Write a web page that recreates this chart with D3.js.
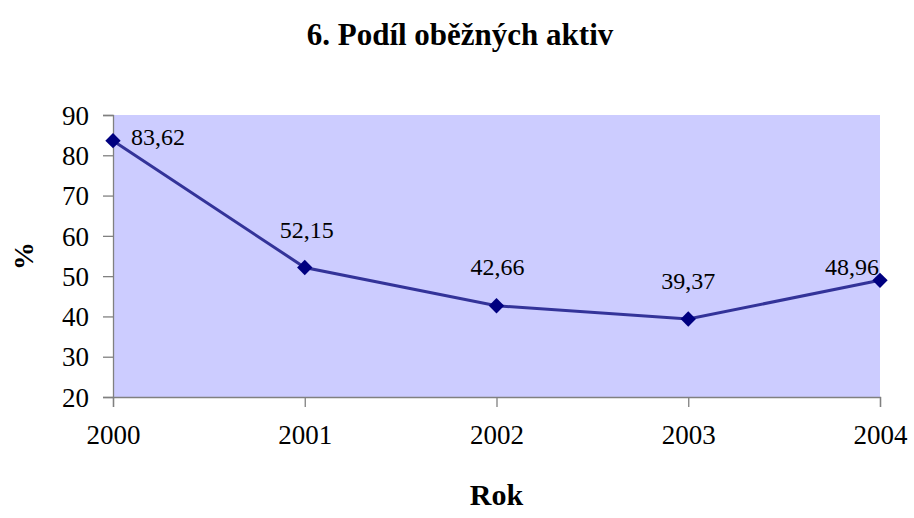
<!DOCTYPE html>
<html>
<head>
<meta charset="utf-8">
<script src="https://cdn.jsdelivr.net/npm/d3@7"></script>
<style>
  body { margin: 0; background: #fff; }
  svg text { font-family: 'Liberation Serif', 'Times New Roman', Times, serif !important; }
</style>
</head>
<body>
<div id="chart"></div>
<script>
// ---------- Data ----------
const years = ['2000', '2001', '2002', '2003', '2004'];
const values = [83.62, 52.15, 42.66, 39.37, 48.96];
const yTicks = [20, 30, 40, 50, 60, 70, 80, 90];

const width = 914, height = 518;
const margin = { top: 115, right: 34, bottom: 121, left: 113 };
const innerW = width - margin.left - margin.right;
const innerH = height - margin.top - margin.bottom;

const svg = d3.select('#chart').append('svg')
    .attr('width', width)
    .attr('height', height);

const g = svg.append('g')
    .attr('transform', `translate(${margin.left},${margin.top})`);

const x = d3.scalePoint().domain(years).range([0, innerW]);
const y = d3.scaleLinear().domain([20, 90]).range([innerH, 0]);

// plot area
g.append('rect')
    .attr('width', innerW)
    .attr('height', innerH)
    .attr('fill', '#ccccff');

// ---------- Axes ----------
const yAxis = g.append('g')
    .call(d3.axisLeft(y).tickValues(yTicks).tickSize(10).tickPadding(14));
const xAxis = g.append('g')
    .attr('transform', `translate(0,${innerH})`)
    .call(d3.axisBottom(x).tickSize(10).tickPadding(14));

[yAxis, xAxis].forEach(ax => {
    ax.attr('font-family', null);
    ax.selectAll('path, line').attr('stroke', '#808080').attr('stroke-width', 1.3);
    ax.selectAll('text')
        .attr('fill', '#000')
        .style('font-size', '27px');
});
yAxis.selectAll('text').attr('dy', '0.34em');
xAxis.selectAll('text').attr('dy', '0.85em');

// ---------- Line ----------
const line = d3.line()
    .x((d, i) => x(years[i]))
    .y(d => y(d));

g.append('path')
    .datum(values)
    .attr('fill', 'none')
    .attr('stroke', '#333399')
    .attr('stroke-width', 3)
    .attr('d', line);

g.selectAll('.marker')
    .data(values)
    .join('path')
    .attr('class', 'marker')
    .attr('d', d3.symbol().type(d3.symbolDiamond2).size(150))
    .attr('transform', (d, i) => `translate(${x(years[i])},${y(d)})`)
    .attr('fill', '#000080');

// ---------- Data labels ----------
// label placement relative to point: [dx, dy, anchor]
const labelPlace = [[18, 4, 'start'], [2, -29, 'middle'], [1, -31, 'middle'], [0, -30, 'middle'], [-1, -5, 'end']];

g.selectAll('.lbl')
    .data(values)
    .join('text')
    .attr('class', 'lbl')
    .attr('x', (d, i) => x(years[i]) + labelPlace[i][0])
    .attr('y', (d, i) => y(d) + labelPlace[i][1])
    .attr('text-anchor', (d, i) => labelPlace[i][2])
    .style('font-size', '24px')
    .attr('fill', '#000')
    .text(d => d.toFixed(2).replace('.', ','));

// ---------- Titles ----------
svg.append('text')
    .attr('x', 460)
    .attr('y', 45)
    .attr('text-anchor', 'middle')
    .style('font-size', '31px')
    .style('font-weight', 'bold')
    .text('6. Podíl oběžných aktiv');

svg.append('text')
    .attr('x', margin.left + innerW / 2)
    .attr('y', 505)
    .attr('text-anchor', 'middle')
    .style('font-size', '30px')
    .style('font-weight', 'bold')
    .text('Rok');

svg.append('text')
    .attr('transform', `translate(33,${margin.top + innerH / 2}) rotate(-90)`)
    .attr('text-anchor', 'middle')
    .style('font-size', '28px')
    .style('font-weight', 'bold')
    .text('%');
</script>
</body>
</html>
